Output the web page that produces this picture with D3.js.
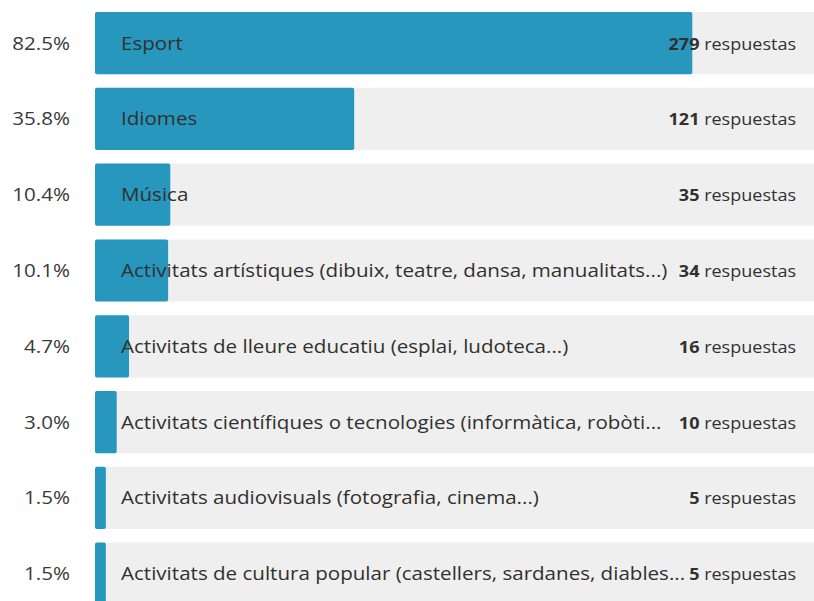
<!DOCTYPE html>
<html>
<head>
<meta charset="utf-8">
<style>
    body { margin: 0; background: #fff; }
    svg { display: block; font-family: 'Open Sans', 'Noto Sans', sans-serif; }
    .pct { font-size: 18.7px; fill: #3a3a3a; }
    .cat { font-size: 18.7px; fill: #323130; }
    .count { font-size: 16.4px; fill: #323130; }
    .count .num { font-weight: 700; }
</style>
</head>
<body>
<svg width="814" height="601"></svg>
<script src="https://d3js.org/d3.v7.min.js"></script>
<script>
    let categories = [
        "Esport",
        "Idiomes",
        "Música",
        "Activitats artístiques (dibuix, teatre, dansa, manualitats...)",
        "Activitats de lleure educatiu (esplai, ludoteca...)",
        "Activitats científiques o tecnologies (informàtica, robòti...",
        "Activitats audiovisuals (fotografia, cinema...)",
        "Activitats de cultura popular (castellers, sardanes, diables..."
    ];
    let percents = [82.5, 35.8, 10.4, 10.1, 4.7, 3.0, 1.5, 1.5];
    let counts = [279, 121, 35, 34, 16, 10, 5, 5];

    let data = categories.map((c, i) => ({ cat: c, pct: percents[i], n: counts[i] }));

    let svg = d3.select("svg");

    let step = 75.8;
    let top0 = 5.2;
    let y = d3.scaleBand()
        .domain(categories)
        .range([top0, top0 + categories.length * step])
        .paddingInner(0.18)
        .paddingOuter(0.09);

    let x = d3.scaleLinear()
        .domain([0, 100])
        .range([95, 819]);

    // text in the picture is a bit wider than tall
    let stretch = 1.1;

    let rows = svg.selectAll("g.row")
        .data(data)
        .join("g")
        .attr("class", "row");

    // grey track
    rows.append("rect")
        .attr("x", x(0))
        .attr("y", d => y(d.cat))
        .attr("width", x(100) - x(0))
        .attr("height", y.bandwidth())
        .attr("rx", 2)
        .attr("fill", "#efefef");

    // value bar
    rows.append("rect")
        .attr("x", x(0))
        .attr("y", d => y(d.cat))
        .attr("width", d => x(d.pct) - x(0))
        .attr("height", y.bandwidth())
        .attr("rx", 2)
        .attr("fill", "#2797bd");

    let mid = d => y(d.cat) + y.bandwidth() / 2 + 6.5;
    let place = (px) => d => `translate(${px},${mid(d)}) scale(${stretch},1)`;

    rows.append("text")
        .attr("class", "pct")
        .attr("transform", place(70))
        .attr("text-anchor", "end")
        .text(d => d.pct.toFixed(1) + "%");

    rows.append("text")
        .attr("class", "cat")
        .attr("transform", place(121))
        .text(d => d.cat);

    let cnt = rows.append("text")
        .attr("class", "count")
        .attr("transform", place(796))
        .attr("text-anchor", "end");
    cnt.append("tspan").attr("class", "num").text(d => d.n);
    cnt.append("tspan").text(" respuestas");
</script>
</body>
</html>
